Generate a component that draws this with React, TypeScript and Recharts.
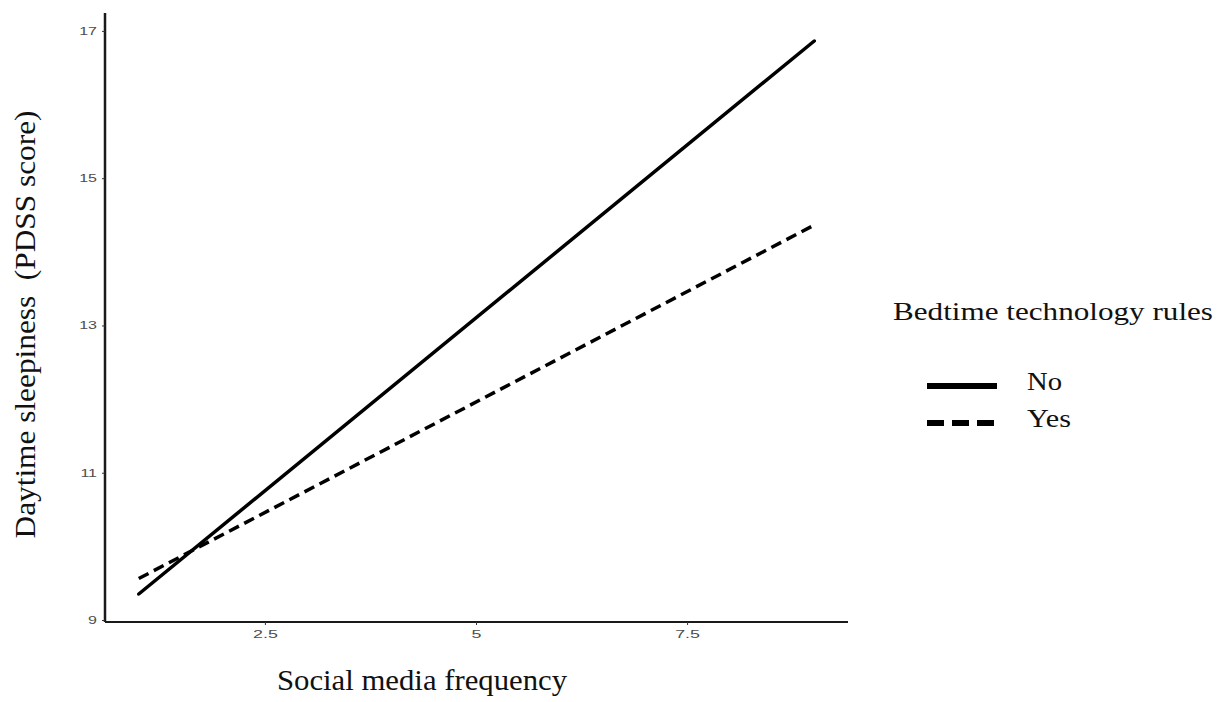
import { LineChart, Line, XAxis, YAxis, Label } from "recharts"

// social media frequency (x) and predicted PDSS score for each group
const xValues = [1, 9]
const noRules = [9.36, 16.87]
const yesRules = [9.57, 14.37]
const seriesNames = ["No", "Yes"]
const seriesDash = [undefined, "11 6"]
const xTicks = [2.5, 5, 7.5]
const yTicks = [9, 11, 13, 15, 17]

const chartData = xValues.map((x, i) => ({ x, No: noRules[i], Yes: yesRules[i] }))

const serif = "'Liberation Serif', 'Times New Roman', serif"
const sans = "'Liberation Sans', Arial, sans-serif"

const YTick = ({ x, y, payload }: any) => (
  <text
    transform={`translate(${x},${y}) scale(1.6,1)`}
    textAnchor="end"
    dominantBaseline="central"
    fontSize={10}
    fontFamily={sans}
    fill="#4d4d4d"
  >
    {payload.value}
  </text>
)

const XTick = ({ x, y, payload }: any) => (
  <text
    transform={`translate(${x},${y + 4}) scale(1.7,1)`}
    textAnchor="middle"
    dominantBaseline="central"
    fontSize={10.5}
    fontFamily={sans}
    fill="#4d4d4d"
  >
    {payload.value}
  </text>
)

// legend drawn beside the chart so it takes no room from the plot
const LegendBox = () => (
  <svg width={342} height={150} style={{ position: "absolute", left: 880, top: 290 }}>
    <text x={13} y={30} fontSize={26} fontFamily={serif} fill="#111" textLength={320} lengthAdjust="spacingAndGlyphs">
      Bedtime technology rules
    </text>
    {seriesNames.map((name, i) => {
      const y = 96 + i * 37
      return (
        <g key={name}>
          <line
            x1={47}
            x2={117}
            y1={y}
            y2={y}
            stroke="#000"
            strokeWidth={6}
            strokeDasharray={i === 1 ? "17 8" : undefined}
          />
          <text
            x={147}
            y={y + 4}
            fontSize={26}
            fontFamily={serif}
            fill="#111"
            textLength={i === 1 ? 44 : 35}
            lengthAdjust="spacingAndGlyphs"
          >
            {name}
          </text>
        </g>
      )
    })}
  </svg>
)

export default function App() {
  return (
    <div style={{ position: "absolute", left: 0, top: 0, width: 1222, height: 702, background: "#fff" }}>
      <LineChart width={1222} height={702} data={chartData} margin={{ top: 13, right: 374, left: 45, bottom: 50 }}>
        <XAxis
          dataKey="x"
          type="number"
          domain={[0.6, 9.4]}
          ticks={xTicks}
          allowDataOverflow
          height={30}
          axisLine={{ stroke: "#1a1a1a", strokeWidth: 2 }}
          tickLine={{ stroke: "#333" }}
          tickSize={3}
          tickMargin={5}
          tick={<XTick />}
        >
          <Label
            content={({ viewBox }: any) => (
              <text
                x={viewBox.x + 172}
                y={viewBox.y + 68}
                fontSize={30}
                fontFamily={serif}
                fill="#111"
                textLength={290}
                lengthAdjust="spacingAndGlyphs"
              >
                Social media frequency
              </text>
            )}
          />
        </XAxis>
        <YAxis
          type="number"
          domain={[8.98, 17.25]}
          ticks={yTicks}
          allowDataOverflow
          width={60}
          axisLine={{ stroke: "#1a1a1a", strokeWidth: 2.5 }}
          tickLine={{ stroke: "#333" }}
          tickSize={3}
          tickMargin={5}
          tick={<YTick />}
        >
          <Label
            content={({ viewBox }: any) => {
              const cx = 24
              const cy = viewBox.y + viewBox.height / 2 + 7
              return (
                <text
                  transform={`translate(${cx},${cy}) rotate(-90)`}
                  textAnchor="middle"
                  dominantBaseline="central"
                  fontSize={30}
                  fontFamily={serif}
                  fill="#111"
                  textLength={428}
                  lengthAdjust="spacingAndGlyphs"
                  style={{ whiteSpace: "pre" }}
                >
                  {"Daytime sleepiness  (PDSS score)"}
                </text>
              )
            }}
          />
        </YAxis>
        {seriesNames.map((name, i) => (
          <Line
            key={name}
            type="linear"
            dataKey={name}
            stroke="#000"
            strokeWidth={3.5}
            strokeLinecap={i === 0 ? "round" : "butt"}
            strokeDasharray={seriesDash[i]}
            dot={false}
            activeDot={false}
            isAnimationActive={false}
          />
        ))}
      </LineChart>
      <LegendBox />
    </div>
  )
}
